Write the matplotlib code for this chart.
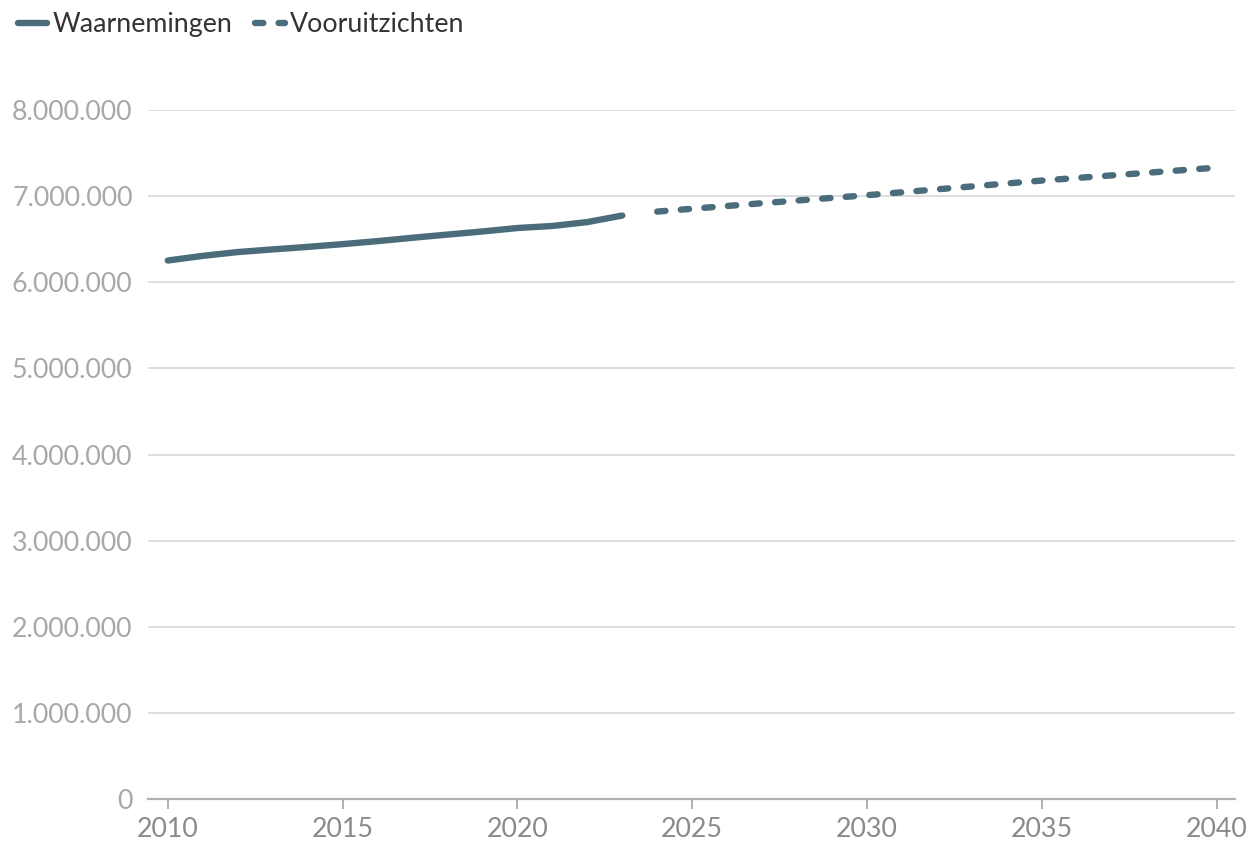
import matplotlib
matplotlib.use("Agg")
import matplotlib.pyplot as plt
from matplotlib.ticker import FuncFormatter

# Observed population (Waarnemingen)
obs_years = [2010, 2011, 2012, 2013, 2014, 2015, 2016, 2017, 2018, 2019, 2020, 2021, 2022, 2023]
obs_values = [6252000, 6306000, 6350000, 6381000, 6410000, 6442000, 6477000, 6516000,
              6553000, 6589000, 6629000, 6653000, 6698000, 6774000]

# Projections (Vooruitzichten)
proj_years = list(range(2024, 2041))
proj_values = [6820000, 6853000, 6885000, 6917000, 6948000, 6979000, 7010000, 7044000,
               7078000, 7112000, 7146000, 7180000, 7210000, 7240000, 7270000, 7300000, 7330000]

y_ticks = [0, 1000000, 2000000, 3000000, 4000000, 5000000, 6000000, 7000000, 8000000]
x_ticks = [2010, 2015, 2020, 2025, 2030, 2035, 2040]

LINE = "#4b6c7b"
FS = 19.3

plt.rcParams["font.family"] = ["Lato", "DejaVu Sans"]

fig = plt.figure(figsize=(12.53, 8.52), dpi=100)
ax = fig.add_axes([0.118, 0.062, 0.868, 0.809])

ax.plot(obs_years, obs_values, color=LINE, lw=4.6, solid_capstyle="round",
        solid_joinstyle="round", label="Waarnemingen", zorder=3)
ax.plot(proj_years, proj_values, color=LINE, lw=4.6, linestyle=(0, (1.3, 2.4)),
        dash_capstyle="round", label="Vooruitzichten", zorder=3)

ax.set_xlim(2009.43, 2040.54)
ax.set_ylim(0, 8000000)
ax.set_yticks(y_ticks)
ax.set_xticks(x_ticks)
ax.yaxis.set_major_formatter(FuncFormatter(lambda v, _p: f"{int(v):,}".replace(",", ".")))

ax.grid(axis="y", color="#dedede", lw=1.4, zorder=0)
ax.set_axisbelow(True)
for s in ["top", "right", "left"]:
    ax.spines[s].set_visible(False)
ax.spines["bottom"].set_color("#b0b0b0")
ax.spines["bottom"].set_linewidth(1.6)

ax.tick_params(axis="y", length=0, pad=11, labelsize=FS, labelcolor="#a8a8a8")
ax.tick_params(axis="x", length=7, width=1.4, color="#b0b0b0", pad=6,
               labelsize=FS, labelcolor="#8a8a8a")

fig.legend(loc="upper left", bbox_to_anchor=(-0.005, 1.014), ncol=2, frameon=False,
           fontsize=FS, handlelength=1.1, handletextpad=0.2, columnspacing=0.85,
           labelcolor="#333333")

fig.savefig("out.png", dpi=100)
